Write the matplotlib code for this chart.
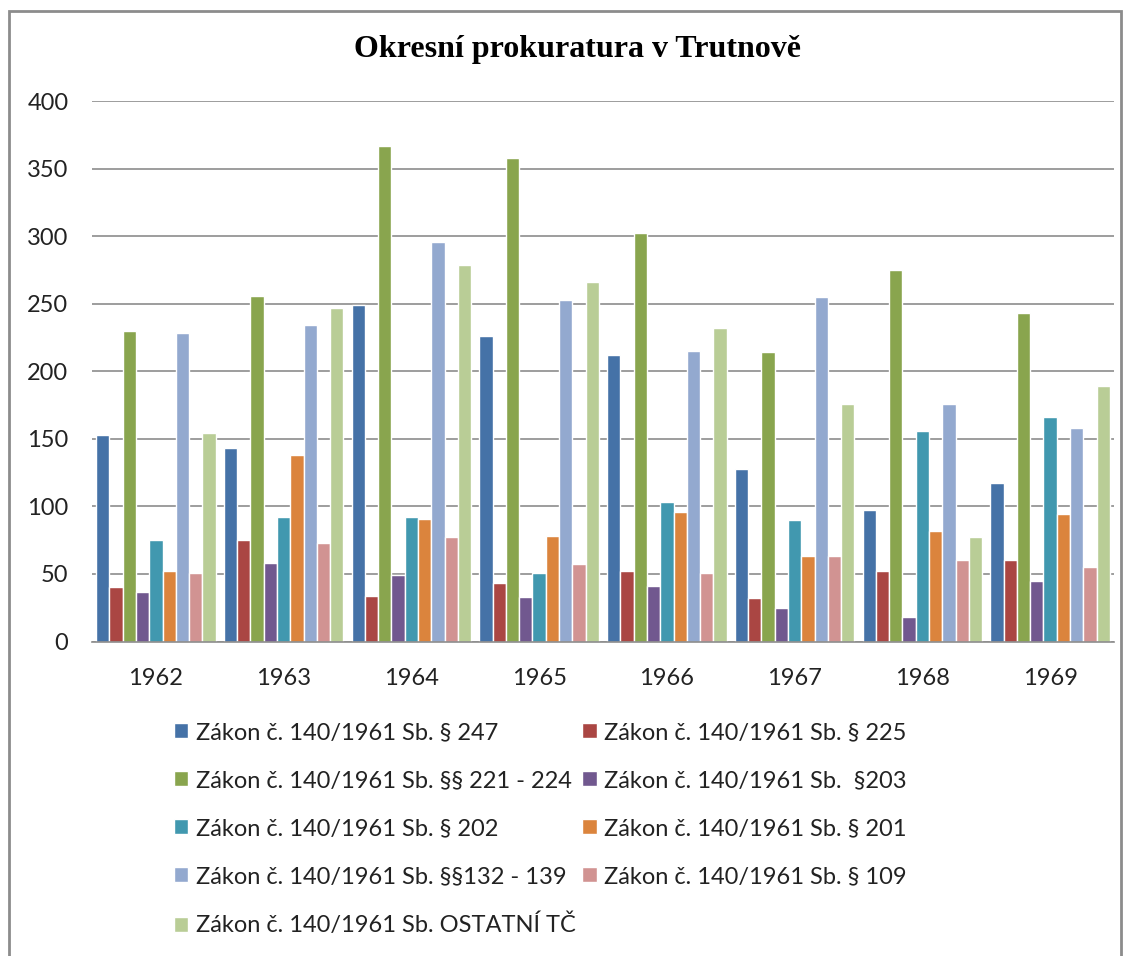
import numpy as np
import matplotlib.pyplot as plt
from matplotlib.patches import Rectangle

years = ['1962', '1963', '1964', '1965', '1966', '1967', '1968', '1969']
labels = [
    'Zákon č. 140/1961 Sb. § 247',
    'Zákon č. 140/1961 Sb. § 225',
    'Zákon č. 140/1961 Sb. §§ 221 - 224',
    'Zákon č. 140/1961 Sb.  §203',
    'Zákon č. 140/1961 Sb. § 202',
    'Zákon č. 140/1961 Sb. § 201',
    'Zákon č. 140/1961 Sb. §§132 - 139',
    'Zákon č. 140/1961 Sb. § 109',
    'Zákon č. 140/1961 Sb. OSTATNÍ TČ',
]
s247 = [153, 143, 249, 226, 212, 128, 97, 117]
s225 = [40, 75, 34, 43, 52, 32, 52, 60]
s221 = [230, 256, 367, 358, 302, 214, 275, 243]
s203 = [37, 58, 49, 33, 41, 25, 18, 45]
s202 = [75, 92, 92, 51, 103, 90, 156, 166]
s201 = [52, 138, 91, 78, 96, 63, 82, 94]
s132 = [228, 234, 296, 253, 215, 255, 176, 158]
s109 = [51, 73, 77, 57, 51, 63, 60, 55]
ostatni = [154, 247, 279, 266, 232, 176, 77, 189]
series = [s247, s225, s221, s203, s202, s201, s132, s109, ostatni]
colors = ['#4572A7', '#AA4643', '#89A54E', '#71588F', '#4198AF',
          '#DB843D', '#93A9CF', '#D19392', '#B9CD96']

plt.rcParams['font.family'] = ['Lato', 'DejaVu Sans']

fig = plt.figure(figsize=(11.32, 9.56), dpi=100)
ax = fig.add_axes([92 / 1132, 1 - 641.5 / 956, 1022 / 1132, 540.5 / 956])

x = np.arange(len(years))
step = 0.104
for i, (vals, c, lab) in enumerate(zip(series, colors, labels)):
    ax.bar(x + (i - 4) * step, vals, step, color=c, label=lab,
           edgecolor='white', linewidth=1.0)

ax.set_xlim(-0.5, len(years) - 0.5)
ax.set_ylim(0, 400)
ax.set_yticks(range(0, 401, 50))
ax.set_xticks(x)
ax.set_xticklabels(years)
ax.tick_params(length=0, labelsize=17, labelcolor='#222222')
ax.tick_params(axis='y', pad=17)
ax.tick_params(axis='x', pad=19)
ax.yaxis.grid(True, color='#8c8c8c', linewidth=1.2)
ax.set_axisbelow(True)
for sp in ['top', 'right', 'left']:
    ax.spines[sp].set_visible(False)
ax.spines['bottom'].set_color('#8c8c8c')
ax.spines['bottom'].set_linewidth(1.2)

fig.text(577 / 1132, 1 - 50 / 956, 'Okresní prokuratura v Trutnově',
         ha='center', va='center', fontsize=23, fontweight='bold',
         family='Liberation Serif')

handles, labs = ax.get_legend_handles_labels()
order = [0, 2, 4, 6, 8, 1, 3, 5, 7]
fig.legend([handles[k] for k in order], [labs[k] for k in order], ncol=2,
           loc='upper left', bbox_to_anchor=(153 / 1132, 1 - 701 / 956),
           frameon=False, fontsize=17, handlelength=0.6, handleheight=0.6,
           handletextpad=0.3, columnspacing=0.3, labelspacing=1.14,
           labelcolor='#222222')

fig.add_artist(Rectangle((9 / 1132, -0.05), 1112 / 1132, 1 - 11 / 956 + 0.05,
                         transform=fig.transFigure, fill=False,
                         edgecolor='#8c8c8c', linewidth=2))

fig.savefig('out.png', dpi=100)
